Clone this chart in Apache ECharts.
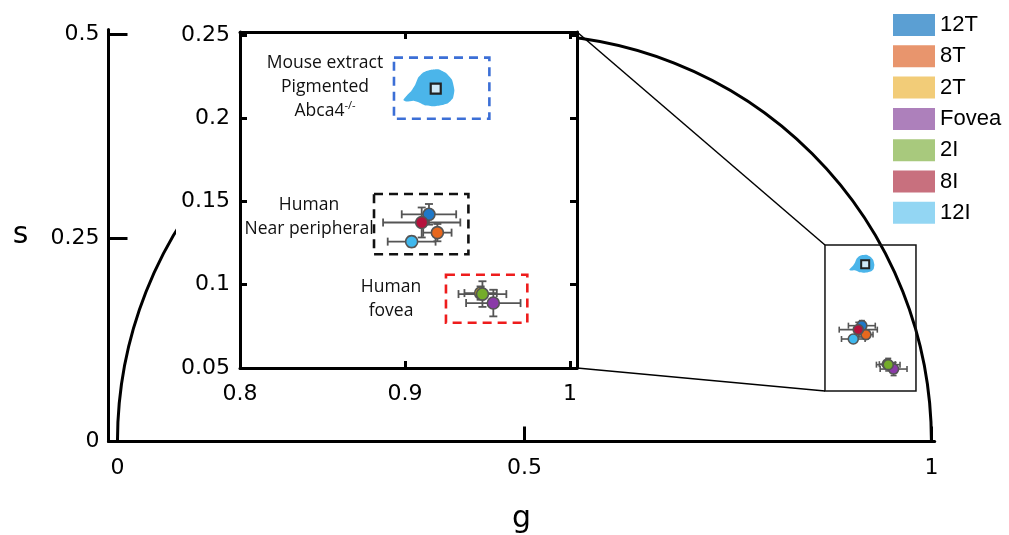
<!DOCTYPE html>
<html>
<head>
<meta charset="utf-8">
<script src="https://cdn.jsdelivr.net/npm/echarts@6/dist/echarts.min.js"></script>
<style>
html,body{margin:0;padding:0;background:#fff}
#chart{width:1009px;height:535px}
</style>
</head>
<body>
<div id="chart"></div>
<script>
// groups, legend swatches and marker colours
var groups = ['12T', '8T', '2T', 'Fovea', '2I', '8I', '12I'];
var legendColors = ['#5b9fd3', '#e8956d', '#f2cc78', '#ad80bb', '#a8c97d', '#c8707e', '#93d6f3'];
var markerColors = ['#1f78c8', '#e8681e', '#e2b012', '#8a3aa8', '#74ac2a', '#b5123c', '#3fb8ee'];

// phasor means (g, s) and error bars
var gMean = [0.9145, 0.9196, 0.9458, 0.9535, 0.9469, 0.9101, 0.9040];
var sMean = [0.1423, 0.1313, 0.0950, 0.0890, 0.0944, 0.1374, 0.1259];
var gErr = [0.0165, 0.0086, 0.0098, 0.0165, 0.0145, 0.0234, 0.0145];
var sErr = [0.0062, 0.0052, 0.0040, 0.0080, 0.0077, 0.0090, 0.0030];

// mouse extract cloud outline + its mean
var mouseG = [0.8990, 0.9010, 0.9035, 0.9061, 0.9080, 0.9110, 0.9150, 0.9202, 0.9250, 0.9285, 0.9299, 0.9290, 0.9260, 0.9220, 0.9172, 0.9121, 0.9085, 0.9050, 0.9010];
var mouseS = [0.2110, 0.2135, 0.2160, 0.2200, 0.2245, 0.2275, 0.2290, 0.2294, 0.2270, 0.2230, 0.2170, 0.2120, 0.2090, 0.2078, 0.2072, 0.2078, 0.2095, 0.2105, 0.2100];
var mouseMean = [0.9186, 0.2178];

// dashed boxes in the inset
var boxG = [[0.8933, 0.9511], [0.8812, 0.9384], [0.9248, 0.9741]];
var boxS = [[0.1997, 0.2364], [0.1183, 0.1545], [0.0772, 0.1060]];
var boxColors = ['#3c6fd6', '#111111', '#ee1c1c'];
// zoom window on the main plot
var zoomG = [0.8692, 0.9810];
var zoomS = [0.0620, 0.2414];

// tick labels
var mainGTicks = [0, 0.5, 1];
var mainSTicks = [0, 0.25, 0.5];
var insetGTicks = [0.8, 0.9, 1];
var insetSTicks = [0.05, 0.1, 0.15, 0.2, 0.25];

var chart = echarts.init(document.getElementById('chart'));
var lblFont = {fontFamily: 'DejaVu Sans', fontSize: 22, color: '#000'};

function errRender(cap, lw) {
  return function (params, api) {
    var x = api.value(0), y = api.value(1), ex = api.value(2), ey = api.value(3);
    var l = api.coord([x - ex, y]), r = api.coord([x + ex, y]);
    var t = api.coord([x, y + ey]), b = api.coord([x, y - ey]);
    var h = cap / 2;
    var st = {stroke: '#555', lineWidth: lw};
    return {type: 'group', children: [
      {type: 'line', shape: {x1: l[0], y1: l[1], x2: r[0], y2: r[1]}, style: st},
      {type: 'line', shape: {x1: l[0], y1: l[1] - h, x2: l[0], y2: l[1] + h}, style: st},
      {type: 'line', shape: {x1: r[0], y1: r[1] - h, x2: r[0], y2: r[1] + h}, style: st},
      {type: 'line', shape: {x1: t[0], y1: t[1], x2: b[0], y2: b[1]}, style: st},
      {type: 'line', shape: {x1: t[0] - h, y1: t[1], x2: t[0] + h, y2: t[1]}, style: st},
      {type: 'line', shape: {x1: b[0] - h, y1: b[1], x2: b[0] + h, y2: b[1]}, style: st}
    ]};
  };
}

function blobRender(params, api) {
  var pts = mouseG.map(function (g, i) { return api.coord([g, mouseS[i]]); });
  return {type: 'polygon', shape: {points: pts, smooth: 0.15}, style: {fill: '#4bb5ea'}};
}

function boxRender(dashed, colors, lw) {
  return function (params, api) {
    var p0 = api.coord([api.value(0), api.value(3)]);
    var p1 = api.coord([api.value(1), api.value(2)]);
    return {type: 'rect', shape: {x: p0[0], y: p0[1], width: p1[0] - p0[0], height: p1[1] - p0[1]},
      style: {fill: 'none', stroke: colors[params.dataIndex], lineWidth: lw, lineDash: dashed ? [9, 6] : null}};
  };
}

var errData = groups.map(function (n, i) { return [gMean[i], sMean[i], gErr[i], sErr[i]]; });
var boxData = boxG.map(function (g, i) { return [g[0], g[1], boxS[i][0], boxS[i][1]]; });

var series = [
  {type: 'custom', xAxisIndex: 0, yAxisIndex: 0, z: 1, silent: true, data: [[0.5, 0]],
    renderItem: function (params, api) {
      var c = api.coord([api.value(0), api.value(1)]);
      var r = api.size([0.5, 0])[0];
      return {type: 'arc', shape: {cx: c[0], cy: c[1], r: r, startAngle: Math.PI, endAngle: 2 * Math.PI},
        style: {fill: 'none', stroke: '#000', lineWidth: 3}};
    }},
  {type: 'custom', xAxisIndex: 0, yAxisIndex: 0, z: 2, silent: true,
    data: [[zoomG[0], zoomG[1], zoomS[0], zoomS[1]]], renderItem: boxRender(false, ['#111'], 1.5)},
  {type: 'custom', xAxisIndex: 0, yAxisIndex: 0, z: 2, silent: true, data: [[mouseMean[0], mouseMean[1]]], renderItem: blobRender},
  {type: 'custom', xAxisIndex: 0, yAxisIndex: 0, z: 2, silent: true, data: errData, renderItem: errRender(6, 1.6)},
  {type: 'custom', xAxisIndex: 2, yAxisIndex: 2, z: 6, silent: true, data: boxData, renderItem: boxRender(true, boxColors, 2.6)},
  {type: 'custom', xAxisIndex: 2, yAxisIndex: 2, z: 6, silent: true, data: [[mouseMean[0], mouseMean[1]]], renderItem: blobRender},
  {type: 'custom', xAxisIndex: 2, yAxisIndex: 2, z: 7, silent: true, data: errData, renderItem: errRender(8, 1.8)}
];

groups.forEach(function (n, i) {
  var st = {color: markerColors[i], borderColor: '#555', borderWidth: 1.6, opacity: 1};
  series.push({name: n, type: 'scatter', xAxisIndex: 0, yAxisIndex: 0, z: 3, symbolSize: 10,
    itemStyle: st, data: [[gMean[i], sMean[i]]]});
  series.push({name: n, type: 'scatter', xAxisIndex: 2, yAxisIndex: 2, z: 8, symbolSize: 12,
    itemStyle: st, data: [[gMean[i], sMean[i]]]});
});
series.push({type: 'scatter', xAxisIndex: 0, yAxisIndex: 0, z: 3, symbol: 'rect', symbolSize: 8,
  itemStyle: {color: '#cfe9f7', borderColor: '#222', borderWidth: 2, opacity: 1}, data: [mouseMean]});
series.push({type: 'scatter', xAxisIndex: 2, yAxisIndex: 2, z: 8, symbol: 'rect', symbolSize: 10,
  itemStyle: {color: '#cfe9f7', borderColor: '#222', borderWidth: 2.2, opacity: 1}, data: [mouseMean]});

var thick = {show: true, onZero: false, lineStyle: {color: '#000', width: 3}};
function labelFmt(v) { return String(v); }

var option = {
  animation: false,
  backgroundColor: '#fff',
  grid: [
    {left: 108.5, right: 74.3, top: 29.6, bottom: 93.5, outerBoundsMode: 'none'},
    {left: 240, right: 432, top: 32, bottom: 167, outerBoundsMode: 'none'}
  ],
  legend: {
    orient: 'vertical', left: 893, top: 14, padding: 0, itemWidth: 42, itemHeight: 22, itemGap: 9.3, icon: 'rect',
    textStyle: {fontFamily: 'Liberation Sans', fontSize: 22, color: '#000'},
    data: groups.map(function (n, i) { return {name: n, itemStyle: {color: legendColors[i], borderWidth: 0, opacity: 1}}; })
  },
  xAxis: [
    {gridIndex: 0, type: 'value', min: -0.011, max: 1.004, axisLine: thick, splitLine: {show: false},
      axisTick: {inside: true, length: 15, lineStyle: {width: 3, color: '#000'}, customValues: [0.5, 1]},
      axisLabel: Object.assign({customValues: mainGTicks, margin: 16, formatter: labelFmt}, lblFont),
      name: 'g', nameLocation: 'middle', nameGap: 63, nameTextStyle: {fontFamily: 'DejaVu Sans', fontSize: 30, color: '#000'}},
    {gridIndex: 0, type: 'value', show: false, min: -0.011, max: 1.004},
    {gridIndex: 1, type: 'value', min: 0.8, max: 1.0042, z: 5, axisLine: thick, splitLine: {show: false},
      axisTick: {inside: true, length: 7, lineStyle: {width: 3, color: '#000'}, customValues: [0.9, 1]},
      axisLabel: Object.assign({customValues: insetGTicks, margin: 15, formatter: labelFmt}, lblFont)},
    {gridIndex: 1, type: 'value', position: 'top', min: 0.8, max: 1.0042, z: 5, axisLine: thick, splitLine: {show: false},
      axisTick: {inside: true, length: 7, lineStyle: {width: 3, color: '#000'}, customValues: [0.9, 1]},
      axisLabel: {show: false}}
  ],
  yAxis: [
    {gridIndex: 0, type: 'value', min: 0, max: 0.506, axisLine: thick, splitLine: {show: false},
      axisTick: {inside: true, length: 19, lineStyle: {width: 3, color: '#000'}, customValues: [0.25, 0.5]},
      axisLabel: Object.assign({customValues: mainSTicks, margin: 9, formatter: labelFmt}, lblFont),
      name: 's', nameLocation: 'middle', nameRotate: 0, nameGap: 80, nameTextStyle: {fontFamily: 'DejaVu Sans', fontSize: 30, color: '#000'}},
    {gridIndex: 0, type: 'value', show: false, min: 0, max: 0.506},
    {gridIndex: 1, type: 'value', min: 0.05, max: 0.2518, z: 5, axisLine: thick, splitLine: {show: false},
      axisTick: {inside: true, length: 7, lineStyle: {width: 3, color: '#000'}, customValues: [0.1, 0.15, 0.2, 0.25]},
      axisLabel: Object.assign({customValues: insetSTicks, margin: 10, formatter: labelFmt}, lblFont)},
    {gridIndex: 1, type: 'value', position: 'right', min: 0.05, max: 0.2518, z: 5, axisLine: thick, splitLine: {show: false},
      axisTick: {inside: true, length: 7, lineStyle: {width: 3, color: '#000'}, customValues: [0.1, 0.15, 0.2, 0.25]},
      axisLabel: {show: false}}
  ],
  series: series
};
chart.setOption(option);

// white panel behind the inset, connector lines and annotations
var cTop = chart.convertToPixel({xAxisIndex: 2, yAxisIndex: 2}, [1.0042, 0.2518]);
var cBot = chart.convertToPixel({xAxisIndex: 2, yAxisIndex: 2}, [1.0042, 0.05]);
var zTop = chart.convertToPixel({xAxisIndex: 0, yAxisIndex: 0}, [zoomG[0], zoomS[1]]);
var zBot = chart.convertToPixel({xAxisIndex: 0, yAxisIndex: 0}, [zoomG[0], zoomS[0]]);
var noteStyle = {fontFamily: 'Open Sans', fontSize: 17.5, fill: '#111', textAlign: 'center', lineHeight: 24};

chart.setOption({
  graphic: [
    {type: 'rect', id: 'panel', z: 4, silent: true, shape: {x: 176, y: 26, width: 403, height: 386}, style: {fill: '#fff'}},
    {type: 'line', id: 'c1', z: 9, shape: {x1: cTop[0], y1: cTop[1], x2: zTop[0], y2: zTop[1]}, style: {stroke: '#000', lineWidth: 1.5}},
    {type: 'line', id: 'c2', z: 9, shape: {x1: cBot[0], y1: cBot[1], x2: zBot[0], y2: zBot[1]}, style: {stroke: '#000', lineWidth: 1.5}},
    {type: 'text', id: 't1', z: 9, x: 325, y: 51, style: Object.assign({text: 'Mouse extract\nPigmented\nAbca4{sup|-/-}',
      rich: {sup: {fontFamily: 'Open Sans', fontSize: 11, fill: '#111', padding: [0, 0, 10, 0]}}}, noteStyle)},
    {type: 'text', id: 't2', z: 9, x: 309, y: 193, style: Object.assign({text: 'Human\nNear peripheral'}, noteStyle)},
    {type: 'text', id: 't3', z: 9, x: 391, y: 275, style: Object.assign({text: 'Human\nfovea'}, noteStyle)}
  ]
});
</script>
</body>
</html>
